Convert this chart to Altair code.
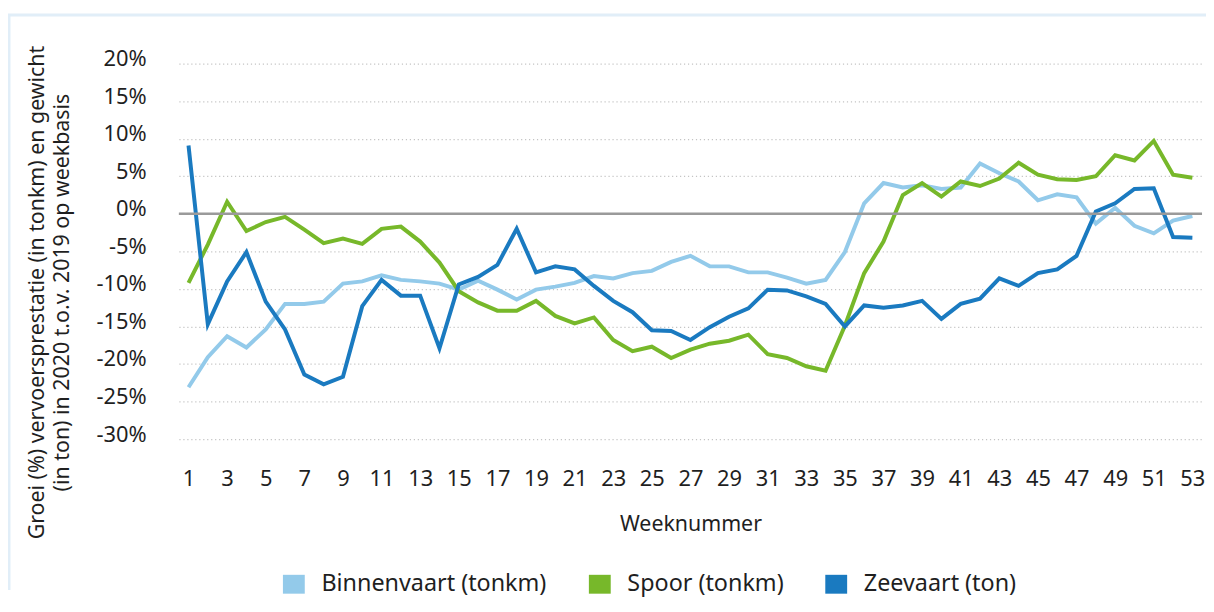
import altair as alt
import pandas as pd

weeks = list(range(1, 54))

binnenvaart = [-23.1, -19.1, -16.3, -17.8, -15.4, -12.0, -12.0, -11.7, -9.3, -9.0,
               -8.2, -8.8, -9.0, -9.3, -10.1, -8.9, -10.1, -11.4, -10.1, -9.7,
               -9.2, -8.3, -8.6, -7.9, -7.6, -6.4, -5.6, -7.0, -7.0, -7.8,
               -7.8, -8.5, -9.3, -8.8, -5.1, 1.4, 4.1, 3.5, 3.8, 3.3,
               3.5, 6.7, 5.4, 4.3, 1.8, 2.6, 2.2, -1.3, 0.8, -1.6,
               -2.6, -0.9, -0.3]

spoor = [-9.2, -4.1, 1.6, -2.3, -1.1, -0.4, -2.1, -3.9, -3.3, -4.0,
         -2.0, -1.7, -3.7, -6.5, -10.3, -11.8, -12.9, -12.9, -11.6, -13.6,
         -14.6, -13.8, -16.8, -18.3, -17.7, -19.2, -18.1, -17.3, -16.9, -16.1,
         -18.7, -19.2, -20.3, -20.9, -14.9, -7.9, -3.7, 2.5, 4.1, 2.3,
         4.3, 3.7, 4.7, 6.8, 5.2, 4.6, 4.5, 5.0, 7.8, 7.1,
         9.7, 5.2, 4.8]

zeevaart = [9.1, -14.7, -9.0, -5.1, -11.7, -15.4, -21.4, -22.7, -21.7, -12.3,
            -8.8, -10.9, -10.9, -17.9, -9.4, -8.4, -6.8, -2.0, -7.8, -7.0,
            -7.4, -9.6, -11.6, -13.1, -15.5, -15.6, -16.8, -15.1, -13.7, -12.6,
            -10.1, -10.2, -11.0, -12.0, -15.0, -12.2, -12.5, -12.2, -11.6, -14.0,
            -12.0, -11.3, -8.6, -9.6, -7.9, -7.4, -5.6, 0.3, 1.4, 3.3,
            3.4, -3.1, -3.2]

series_names = ["Binnenvaart (tonkm)", "Spoor (tonkm)", "Zeevaart (ton)"]
series_colors = ["#93CAEA", "#77B82A", "#1A7AC0"]
y_ticks = [-30, -25, -20, -15, -10, -5, 0, 5, 10, 15, 20]
x_ticks = list(range(1, 54, 2))

rows = []
for name, vals in zip(series_names, [binnenvaart, spoor, zeevaart]):
    for w, v in zip(weeks, vals):
        rows.append({"week": w, "waarde": v, "reeks": name})
df = pd.DataFrame(rows)

FONT = "Noto Sans"
TXT = "#1f1f1f"
y_scale = alt.Scale(domain=[-30, 20], nice=False, zero=False)

x_axis = alt.Axis(values=x_ticks, title="Weeknummer", grid=False, domain=False,
                  ticks=False, tickSize=0, labelPadding=30, labelFontSize=22,
                  labelOverlap=False, labelFlush=False,
                  labelColor=TXT, labelFont=FONT, titleFont=FONT, titleFontSize=21.5,
                  titleFontWeight="normal", titleColor=TXT, titleY=92,
                  titleBaseline="alphabetic")
y_axis = alt.Axis(values=y_ticks, tickCount=11, labelExpr="datum.value + '%'",
                  title=["Groei (%) vervoersprestatie (in tonkm) en gewicht",
                         "(in ton) in 2020 t.o.v. 2019 op weekbasis"],
                  grid=True, gridColor="#c4c4c4", gridDash=[1.2, 2.8], gridWidth=1.2,
                  domain=False, ticks=False, tickSize=0, labelPadding=33,
                  labelOverlap=False, labelFlush=False,
                  labelFontSize=22, labelColor=TXT, labelFont=FONT,
                  labelBaseline="alphabetic", labelOffset=2,
                  titleFont=FONT, titleFontSize=21.5, titleFontWeight="normal",
                  titleColor=TXT, titleAngle=-90, titleX=-142, titleY=230,
                  titleAlign="center", titleBaseline="middle", titleLineHeight=25)

lines = alt.Chart(df).mark_line(strokeWidth=4, strokeJoin="miter", strokeCap="butt").encode(
    x=alt.X("week:Q", scale=alt.Scale(domain=[0.5, 53.5], nice=False, zero=False), axis=x_axis),
    y=alt.Y("waarde:Q", scale=y_scale, axis=y_axis),
    color=alt.Color("reeks:N",
                    scale=alt.Scale(domain=series_names, range=series_colors),
                    sort=series_names,
                    legend=alt.Legend(orient="none", direction="horizontal", title=None,
                                      legendX=104, legendY=512,
                                      symbolType="M-1,-0.5H1V0.5H-1Z", symbolSize=36,
                                      symbolStrokeWidth=16, labelOffset=16,
                                      columnPadding=17, labelFontSize=23.5, labelFont=FONT,
                                      labelLimit=400, labelColor=TXT, padding=0)),
    order="week:Q",
)

zero = alt.Chart(pd.DataFrame({"waarde": [0]})).mark_rule(color="#9a9a9a", strokeWidth=2.5).encode(
    y=alt.Y("waarde:Q", scale=y_scale, axis=y_axis)
)

border_top = alt.Chart(pd.DataFrame({"b": [0]})).mark_rule(color="#E1EEF8", strokeWidth=3).encode(
    x=alt.value(-172), x2=alt.value(1034), y=alt.value(-49)
)
border_left = alt.Chart(pd.DataFrame({"b": [0]})).mark_rule(color="#E1EEF8", strokeWidth=3).encode(
    x=alt.value(-171), y=alt.value(-50), y2=alt.value(530)
)

chart = alt.layer(lines, zero, border_top, border_left).properties(
    width=1030, height=378,
    autosize=alt.AutoSizeParams(type="none"),
    padding={"left": 172, "top": 54, "right": 4, "bottom": 158},
).configure_view(stroke=None).configure_axis(labelOverlap=False)

chart.save("out.html", embed_options={"renderer": "svg", "actions": False})
